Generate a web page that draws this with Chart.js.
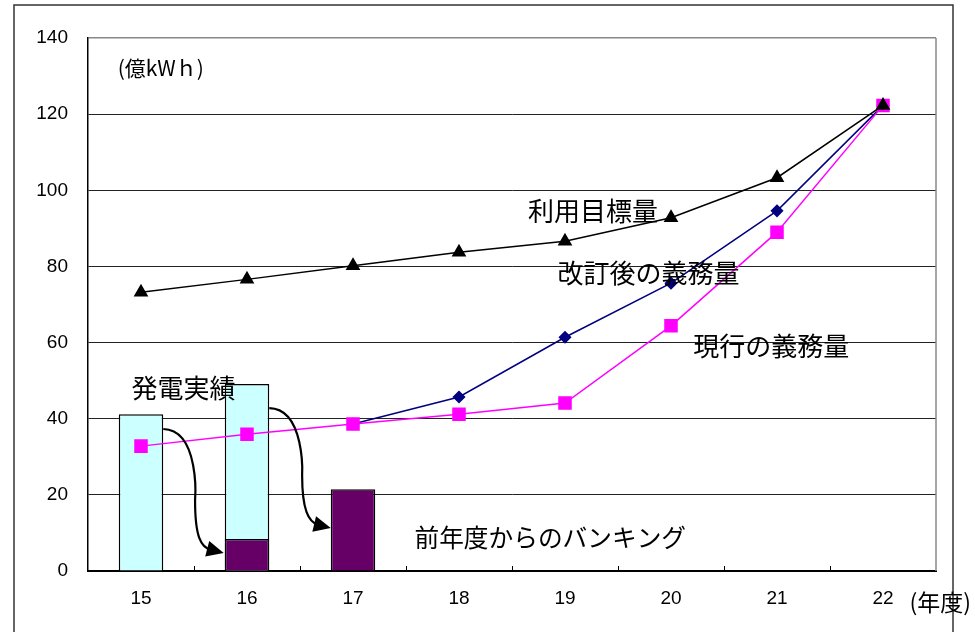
<!DOCTYPE html>
<html lang="ja">
<head>
<meta charset="UTF-8">
<title>利用目標量と義務量</title>
<script src="https://cdn.jsdelivr.net/npm/chart.js@4.4.0/dist/chart.umd.min.js"></script>
<style>
  html, body { margin: 0; padding: 0; background: #fff; }
</style>
</head>
<body>
<canvas id="chart" width="975" height="632"></canvas>
<script>
// 年度
const years = ['15', '16', '17', '18', '19', '20', '21', '22'];
// 利用目標量
const targetAmount = [73.2, 76.6, 80.2, 83.7, 86.6, 92.8, 103.3, 122.3];
// 改訂後の義務量
const revisedObligation = [null, null, 38.6, 45.7, 61.4, 75.6, 94.6, 122.3];
// 現行の義務量
const currentObligation = [32.8, 35.9, 38.6, 41.2, 44.1, 64.4, 89.0, 122.3];
// 発電実績
const generation = [41.2, 49.1, null, null, null, null, null, null];
// 前年度からのバンキング
const banking = [null, 8.4, 21.5, null, null, null, null, null];

const yTicks = [0, 20, 40, 60, 80, 100, 120, 140];

const JP = '"Noto Sans CJK JP", "Noto Sans", sans-serif';
const NUM = '"Liberation Sans", Arial, sans-serif';

// text labels placed in data coordinates (category index, value)
const notes = [
  { text: '(億kWｈ)', x: -0.22, y: 132.1, size: 21, font: JP },
  { text: '利用目標量', x: 3.65, y: 94.6, size: 26, font: JP },
  { text: '改訂後の義務量', x: 3.93, y: 78.3, size: 26, font: JP },
  { text: '現行の義務量', x: 5.21, y: 59.0, size: 26, font: JP },
  { text: '発電実績', x: -0.09, y: 48.1, size: 26, font: JP },
  { text: '前年度からのバンキング', x: 2.58, y: 8.7, size: 24.7, font: JP },
  { text: '(年度)', x: 7.25, y: -8.2, size: 23, font: JP }
];

// curved arrows: start, two cubic segments, tip (category index, value)
const arrows = [
  [[0.21, 37.3], [0.56, 37.0], [0.51, 18.6], [0.51, 18.6], [0.51, 9.4], [0.56, 6.0], [0.67, 5.5], [0.78, 4.7]],
  [[1.21, 42.8], [1.55, 42.6], [1.52, 25.2], [1.52, 25.2], [1.52, 16.0], [1.58, 12.9], [1.67, 12.1], [1.79, 11.3]]
];

const decor = {
  id: 'decor',
  beforeDraw(chart) {
    const c = chart.ctx;
    c.save();
    c.strokeStyle = '#333';
    c.lineWidth = 1.5;
    c.strokeRect(14, 5, 939, 640);
    c.restore();
  },
  afterDraw(chart) {
    const c = chart.ctx;
    const xs = chart.scales.x, ys = chart.scales.y;
    const a = chart.chartArea;
    const px = v => xs.getPixelForValue(v);
    const py = v => ys.getPixelForValue(v);
    c.save();
    // right border of the plot
    c.strokeStyle = '#888';
    c.lineWidth = 1.5;
    c.beginPath();
    c.moveTo(a.right, a.top);
    c.lineTo(a.right, a.bottom);
    c.stroke();
    // inward ticks on the category axis
    c.strokeStyle = '#000';
    c.lineWidth = 1;
    for (let i = 1; i < years.length; i++) {
      const x = Math.round((px(i - 1) + px(i)) / 2) + 0.5;
      c.beginPath();
      c.moveTo(x, a.bottom);
      c.lineTo(x, a.bottom - 5);
      c.stroke();
    }
    // arrows
    arrows.forEach(p => {
      const q = p.map(d => [px(d[0]), py(d[1])]);
      c.strokeStyle = '#000';
      c.lineWidth = 2.2;
      c.beginPath();
      c.moveTo(q[0][0], q[0][1]);
      c.bezierCurveTo(q[1][0], q[1][1], q[2][0], q[2][1], q[3][0], q[3][1]);
      c.bezierCurveTo(q[4][0], q[4][1], q[5][0], q[5][1], q[6][0], q[6][1]);
      c.stroke();
      const tip = q[7], from = q[6];
      const ang = Math.atan2(tip[1] - from[1], tip[0] - from[0]);
      const len = 17, hw = 8;
      const bx = tip[0] - Math.cos(ang) * len, by = tip[1] - Math.sin(ang) * len;
      c.fillStyle = '#000';
      c.beginPath();
      c.moveTo(tip[0], tip[1]);
      c.lineTo(bx - Math.sin(ang) * hw, by + Math.cos(ang) * hw);
      c.lineTo(bx + Math.sin(ang) * hw, by - Math.cos(ang) * hw);
      c.closePath();
      c.fill();
    });
    // labels
    c.fillStyle = '#000';
    c.textBaseline = 'middle';
    c.textAlign = 'left';
    notes.forEach(n => {
      c.font = n.size + 'px ' + n.font;
      c.fillText(n.text, px(n.x), py(n.y));
    });
    c.restore();
  }
};

const ctx = document.getElementById('chart').getContext('2d');
new Chart(ctx, {
  type: 'bar',
  data: {
    labels: years,
    datasets: [
      {
        type: 'line', label: '利用目標量', data: targetAmount, order: 0,
        borderColor: '#000', borderWidth: 1.5, backgroundColor: '#000',
        pointStyle: 'triangle', pointRadius: 7, pointBackgroundColor: '#000', pointBorderColor: '#000',
        tension: 0
      },
      {
        type: 'line', label: '現行の義務量', data: currentObligation, order: 1,
        borderColor: '#FF00FF', borderWidth: 1.5, backgroundColor: '#FF00FF',
        pointStyle: 'rect', pointRadius: 8.5, pointBackgroundColor: '#FF00FF', pointBorderColor: '#FF00FF',
        tension: 0
      },
      {
        type: 'line', label: '改訂後の義務量', data: revisedObligation, order: 2,
        borderColor: '#000080', borderWidth: 1.5, backgroundColor: '#000080',
        pointStyle: 'rectRot', pointRadius: 5.5, pointBackgroundColor: '#000080', pointBorderColor: '#000080',
        tension: 0
      },
      {
        label: '前年度からのバンキング', data: banking, order: 3,
        backgroundColor: '#660066', borderColor: '#000', borderWidth: 1.5,
        barPercentage: 0.42, categoryPercentage: 1
      },
      {
        label: '発電実績', data: generation, order: 4,
        backgroundColor: '#CCFFFF', borderColor: '#000', borderWidth: 1.5,
        barPercentage: 0.42, categoryPercentage: 1
      }
    ]
  },
  options: {
    responsive: false,
    animation: false,
    layout: { padding: { left: 0, top: 38, right: 39, bottom: 0 } },
    plugins: { legend: { display: false }, tooltip: { enabled: false } },
    scales: {
      x: {
        stacked: true,
        offset: true,
        grid: { display: false, drawTicks: false },
        border: { display: true, color: '#000', width: 2 },
        ticks: { color: '#000', font: { family: NUM, size: 19 }, padding: 16, maxRotation: 0 },
        afterFit(s) { s.height = 61; }
      },
      y: {
        min: 0, max: 140,
        afterBuildTicks(s) { s.ticks = yTicks.map(v => ({ value: v })); },
        grid: {
          drawTicks: false,
          color: c => (c.tick && c.tick.value === 140 ? '#888' : '#222'),
          lineWidth: c => (c.tick && c.tick.value === 140 ? 1.5 : 1)
        },
        border: { display: true, color: '#000', width: 1.5 },
        ticks: { color: '#000', font: { family: NUM, size: 19 }, padding: 20 },
        afterFit(s) { s.width = 88; }
      }
    }
  },
  plugins: [decor]
});
</script>
</body>
</html>
